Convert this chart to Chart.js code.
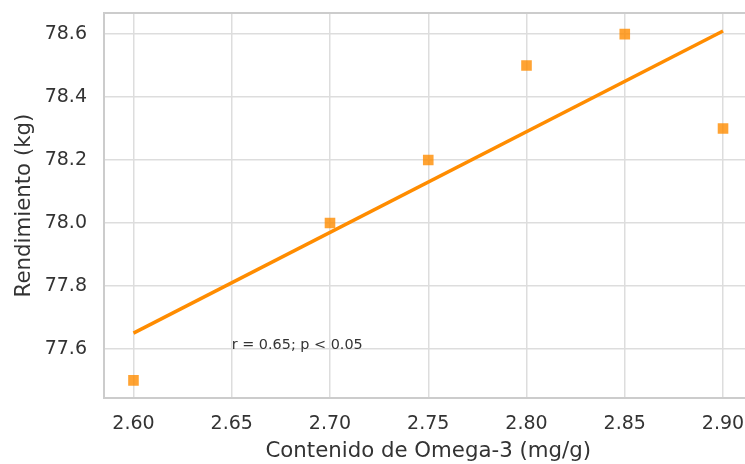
<!DOCTYPE html>
<html>
<head>
<meta charset="utf-8">
<script src="https://cdn.jsdelivr.net/npm/chart.js@4"></script>
<style>
  html, body { margin: 0; padding: 0; background: #fff; overflow: hidden; }
  #wrap { width: 745px; height: 464px; overflow: hidden; }
</style>
</head>
<body>
<div id="wrap"><canvas id="chart" width="760" height="464"></canvas></div>
<script>
// Omega-3 vs rendimiento — scatter + fitted line
// (canvas is a bit wider than the view: the right spine sits just past the edge)

// ── Data ──────────────────────────────────────────────────────────────────────

const omega3 = [2.60, 2.70, 2.75, 2.80, 2.85, 2.90];
const rendimiento = [77.5, 78.0, 78.2, 78.5, 78.6, 78.3];

// fitted line, read at its two ends
const fitX = [2.60, 2.90];
const fitY = [77.65, 78.61];

const xTicks = [2.60, 2.65, 2.70, 2.75, 2.80, 2.85, 2.90];
const yTicks = [77.6, 77.8, 78.0, 78.2, 78.4, 78.6];

const noteText = 'r = 0.65; p < 0.05';
const noteAt = { x: 2.65, y: 77.6 };

// ── Chart defaults ────────────────────────────────────────────────────────────

Chart.defaults.font.family = '"DejaVu Sans", sans-serif';
Chart.defaults.color = '#333333';

const GRID = '#dddddd';
const SPINE = '#cccccc';

// frame on all four sides + the r/p note
const framePlugin = {
  id: 'frame',
  beforeDatasetsDraw(chart) {
    const { ctx, chartArea: a } = chart;
    ctx.save();
    ctx.strokeStyle = SPINE;
    ctx.lineWidth = 2;
    ctx.strokeRect(a.left, a.top, a.right - a.left, a.bottom - a.top);
    ctx.restore();
  },
  afterDatasetsDraw(chart) {
    const { ctx, scales } = chart;
    ctx.save();
    ctx.font = '14.4px "DejaVu Sans", sans-serif';
    ctx.fillStyle = '#333333';
    ctx.textAlign = 'left';
    ctx.textBaseline = 'alphabetic';
    ctx.fillText(noteText, scales.x.getPixelForValue(noteAt.x), scales.y.getPixelForValue(noteAt.y));
    ctx.restore();
  },
};

// keep the plot box where the layout padding puts it
function noEdgePadding(s) {
  s.paddingTop = 0;
  s.paddingBottom = 0;
  s.paddingLeft = 0;
  s.paddingRight = 0;
}

new Chart(document.getElementById('chart').getContext('2d'), {
  type: 'scatter',
  data: {
    datasets: [
      {
        type: 'line',
        data: fitX.map((x, i) => ({ x, y: fitY[i] })),
        borderColor: '#ff8c00',
        borderWidth: 3.5,
        pointRadius: 0,
        fill: false,
        order: 1,
      },
      {
        data: omega3.map((x, i) => ({ x, y: rendimiento[i] })),
        pointStyle: 'rect',
        pointRadius: 7.5,
        backgroundColor: 'rgba(255,140,0,0.8)',
        borderWidth: 0,
        order: 0,
      },
    ],
  },
  options: {
    responsive: false,
    animation: false,
    layout: { padding: { top: 13, right: 0, left: 0, bottom: 0 } },
    plugins: { legend: { display: false }, tooltip: { enabled: false } },
    scales: {
      x: {
        type: 'linear',
        min: 2.585,
        max: 2.915,
        afterFit: (s) => { s.height = 66; noEdgePadding(s); },
        afterBuildTicks: (s) => { s.ticks = xTicks.map((v) => ({ value: v })); },
        ticks: {
          font: { size: 19 },
          padding: 15,
          maxRotation: 0,
          callback: (v) => v.toFixed(2),
        },
        grid: { color: GRID, lineWidth: 1.5, drawTicks: false },
        border: { display: false },
        title: {
          display: true,
          text: 'Contenido de Omega-3 (mg/g)',
          font: { size: 21.3 },
          padding: { top: 0, bottom: 0 },
        },
      },
      y: {
        min: 77.444,
        max: 78.667,
        afterFit: (s) => { s.width = 104; noEdgePadding(s); },
        afterBuildTicks: (s) => { s.ticks = yTicks.map((v) => ({ value: v })); },
        ticks: {
          font: { size: 19 },
          padding: 17,
          callback: (v) => v.toFixed(1),
        },
        grid: { color: GRID, lineWidth: 1.5, drawTicks: false },
        border: { display: false },
        title: {
          display: true,
          text: 'Rendimiento (kg)',
          font: { size: 21.3 },
          padding: { top: 12, bottom: 0 },
        },
      },
    },
  },
  plugins: [framePlugin],
});
</script>
</body>
</html>
